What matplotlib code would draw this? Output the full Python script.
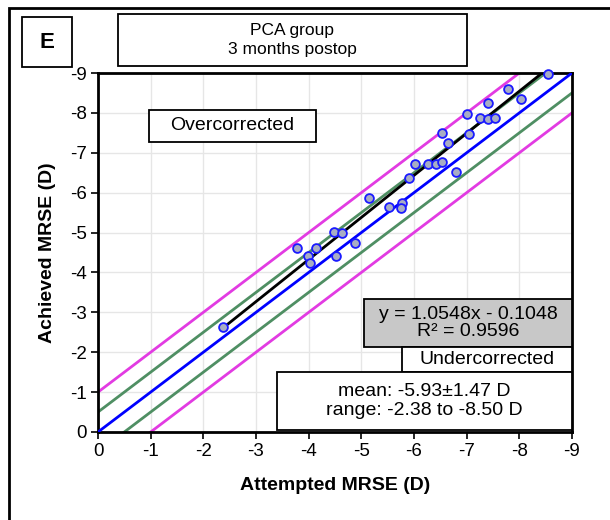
import matplotlib
matplotlib.use("Agg")
import matplotlib.pyplot as plt
from matplotlib.patches import Rectangle
import numpy as np

plt.rcParams['font.family'] = ['Liberation Sans', 'DejaVu Sans']
plt.rcParams['axes.unicode_minus'] = False

# Data (attempted vs achieved MRSE, D)
attempted = [-8.55, -7.78, -8.03, -7.40, -7.00, -7.26, -7.40, -7.53, -6.53, -7.05,
             -6.65, -6.02, -6.27, -6.41, -6.53, -6.79, -5.90, -5.14, -5.52, -5.77,
             -5.76, -4.49, -4.64, -4.88, -3.78, -4.13, -3.99, -4.51, -4.03, -2.37]
achieved = [-8.97, -8.60, -8.34, -8.24, -7.97, -7.86, -7.84, -7.86, -7.49, -7.48,
            -7.24, -6.73, -6.73, -6.73, -6.76, -6.52, -6.36, -5.86, -5.63, -5.75,
            -5.62, -5.01, -4.99, -4.75, -4.62, -4.62, -4.40, -4.40, -4.24, -2.64]
slope = 1.0548
intercept = -0.1048
ticks = [0, -1, -2, -3, -4, -5, -6, -7, -8, -9]
band_offsets = [0.5, 1.0]

W, H = 610, 520
fig = plt.figure(figsize=(W / 100, H / 100), dpi=100)

def fx(px):
    return px / W

def fy(py):
    return 1 - py / H

ax = fig.add_axes([fx(98), fy(432), fx(572) - fx(98), fy(73) - fy(432)])
ax.set_xlim(0, -9)
ax.set_ylim(0, -9)
ax.set_xticks(ticks)
ax.set_yticks(ticks)
ax.set_xticklabels([str(t) for t in ticks])
ax.set_yticklabels([str(t) for t in ticks])
ax.grid(True, color='#e6e6e6', linewidth=1.0, zorder=0)
ax.set_axisbelow(True)
for s in ax.spines.values():
    s.set_linewidth(2.0)
    s.set_color('black')
ax.tick_params(direction='out', length=5, width=1.2, labelsize=13.5, pad=3)

# identity and tolerance lines
ax.axline((0, 0), slope=1, color='#0000ff', linewidth=2.0, zorder=3)
ax.axline((0, -band_offsets[0]), slope=1, color='#4f8f63', linewidth=2.0, zorder=2)
ax.axline((0, band_offsets[0]), slope=1, color='#4f8f63', linewidth=2.0, zorder=2)
ax.axline((0, -band_offsets[1]), slope=1, color='#e23be2', linewidth=2.0, zorder=2)
ax.axline((0, band_offsets[1]), slope=1, color='#e23be2', linewidth=2.0, zorder=2)

# regression line
xr = np.array([max(attempted), min(attempted)])
ax.plot(xr, slope * xr + intercept, color='black', linewidth=2.0, zorder=4)

ax.scatter(attempted, achieved, s=40, facecolor='#a8adc4', edgecolor='#1a1aff',
           linewidth=1.3, zorder=5, clip_on=False)

ax.set_xlabel('Attempted MRSE (D)', fontsize=14, fontweight='bold', labelpad=12)
ax.set_ylabel('Achieved MRSE (D)', fontsize=14, fontweight='bold', labelpad=10)

# figure border
fig.add_artist(Rectangle((fx(9), fy(530)), fx(620) - fx(9), fy(8) - fy(530),
                         transform=fig.transFigure, fill=False, edgecolor='black',
                         linewidth=2.0))

def box(x0, y0, x1, y1, text, fc='white', ls=1.0, **kw):
    fig.add_artist(Rectangle((fx(x0), fy(y1)), fx(x1) - fx(x0), fy(y0) - fy(y1),
                             transform=fig.transFigure, facecolor=fc,
                             edgecolor='black', linewidth=1.3, zorder=5))
    fig.text(fx((x0 + x1) / 2), fy((y0 + y1) / 2), text, ha='center', va='center',
             zorder=6, linespacing=ls, **kw)

box(22, 17, 72, 67, 'E', fontsize=16, fontweight='bold')
box(118, 14, 467, 66, 'PCA group\n3 months postop', fontsize=12.5, ls=1.3)
box(149, 110, 316, 142, 'Overcorrected', fontsize=14)
box(364, 299, 572, 347, 'y = %.4fx - %.4f\nR\u00b2 = 0.9596' % (slope, -intercept),
    fc='#c8c8c8', fontsize=14, ls=0.95)
box(402, 347, 572, 372, 'Undercorrected', fontsize=14)
box(277, 372, 572, 430, 'mean: -5.93\u00b11.47 D\nrange: -2.38 to -8.50 D',
    fontsize=14, ls=1.2)

fig.savefig('out.png', dpi=100)
